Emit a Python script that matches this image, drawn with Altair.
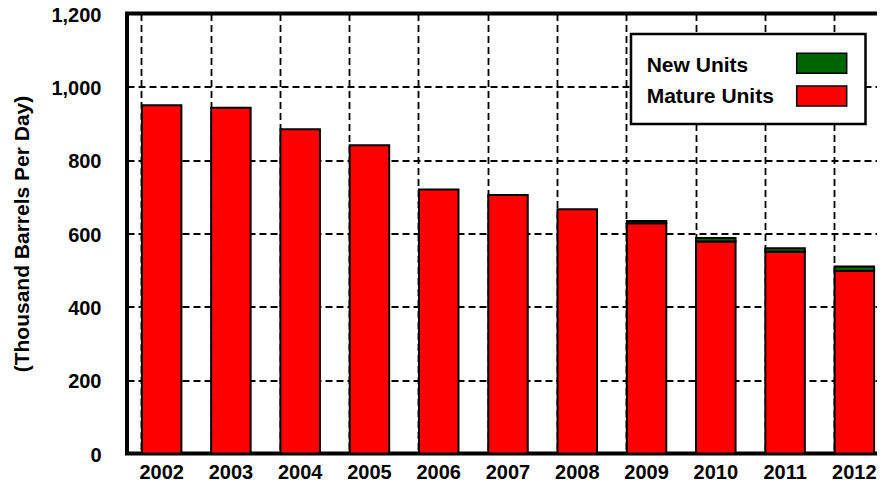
import altair as alt
import pandas as pd

years = [2002, 2003, 2004, 2005, 2006, 2007, 2008, 2009, 2010, 2011, 2012]
mature_units = [950, 943, 884, 841, 720, 705, 666, 628, 578, 550, 498]
new_units = [0, 0, 0, 0, 0, 0, 0, 6, 10, 10, 12]
series_names = ["New Units", "Mature Units"]
series_colors = ["#006400", "#FF0000"]
y_ticks = [0, 200, 400, 600, 800, 1000, 1200]

rows = []
for yr, m, n in zip(years, mature_units, new_units):
    rows.append({"year": str(yr), "series": "Mature Units", "ord": 0, "value": m})
    rows.append({"year": str(yr), "series": "New Units", "ord": 1, "value": n})
df = pd.DataFrame(rows)

FONT = "Liberation Sans"

grid_style = dict(gridColor="black", gridDash=[7, 4], gridWidth=1.8, gridOpacity=1)

bars = (
    alt.Chart(df)
    .transform_filter(alt.datum.value > 0)
    .mark_bar(stroke="black", strokeWidth=2)
    .encode(
        x=alt.X(
            "year:O",
            scale=alt.Scale(paddingInner=0.43, paddingOuter=0.215),
            axis=alt.Axis(
                title=None,
                labelAngle=0,
                labelFont=FONT,
                labelFontSize=20,
                labelFontWeight="bold",
                labelColor="black",
                labelPadding=9,
                ticks=False,
                domain=False,
                grid=True,
                bandPosition=0,
                **grid_style,
            ),
        ),
        y=alt.Y(
            "value:Q",
            stack="zero",
            scale=alt.Scale(domain=[0, 1200], nice=False),
            axis=alt.Axis(
                title="(Thousand Barrels Per Day)",
                values=y_ticks,
                format=",.0f",
                labelFont=FONT,
                labelFontSize=20,
                labelFontWeight="bold",
                labelColor="black",
                labelPadding=26,
                labelOffset=1.5,
                ticks=False,
                domain=False,
                grid=True,
                titleFont=FONT,
                titleFontSize=21,
                titleFontWeight="bold",
                titleColor="black",
                titlePadding=18,
                **grid_style,
            ),
        ),
        color=alt.Color(
            "series:N",
            scale=alt.Scale(domain=series_names, range=series_colors),
            legend=None,
        ),
        order=alt.Order("ord:Q", sort="ascending"),
    )
)

# legend drawn as a framed box with label-left / swatch-right entries
one = pd.DataFrame({"k": [0]})
legend_box = alt.Chart(one).mark_rect(
    fill="white", stroke="black", strokeWidth=2.5
).encode(
    x=alt.value(504), x2=alt.value(738.5), y=alt.value(20.5), y2=alt.value(110.5)
)

legend_layers = [legend_box]
for i, (name, col) in enumerate(zip(series_names, series_colors)):
    top = 39.8 + i * 32.7
    legend_layers.append(
        alt.Chart(one).mark_rect(fill=col, stroke="black", strokeWidth=1.5).encode(
            x=alt.value(669.7), x2=alt.value(719.7), y=alt.value(top), y2=alt.value(top + 20)
        )
    )
    legend_layers.append(
        alt.Chart(pd.DataFrame({"label": [name]}))
        .mark_text(
            align="left",
            baseline="alphabetic",
            font=FONT,
            fontSize=21,
            fontWeight="bold",
            color="black",
        )
        .encode(text="label:N", x=alt.value(519.7), y=alt.value(58.8 + i * 31))
    )

chart = (
    alt.layer(bars, *legend_layers)
    .properties(
        width=762,
        height=440,
        title=alt.TitleParams(
            "Crude Oil Production",
            font=FONT,
            fontSize=36,
            fontWeight="bold",
            color="black",
            anchor="middle",
            offset=0,
            dy=5,
        ),
        autosize=alt.AutoSizeParams(type="none"),
        padding={"left": 119, "top": 5.5, "right": -12, "bottom": 30},
    )
    .configure_view(stroke="black", strokeWidth=4)
)

chart.save("out.html", embed_options={"renderer": "svg", "actions": False})
